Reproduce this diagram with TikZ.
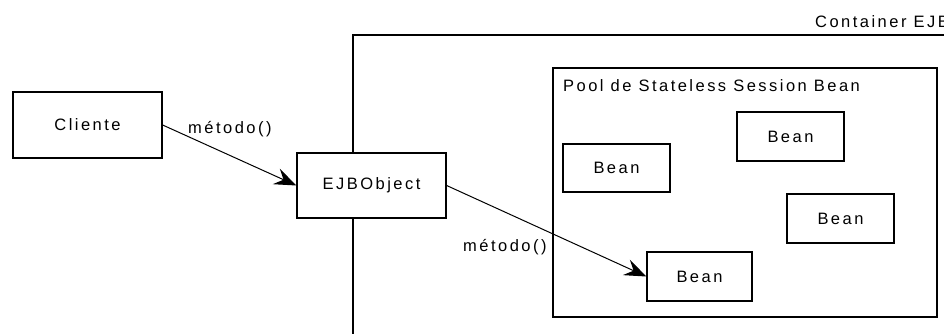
\documentclass[tikz,border=0pt]{standalone}
\usepackage{fontspec}
\setmainfont[LetterSpace=15]{Liberation Sans}
\usetikzlibrary{arrows.meta}
\tikzset{
  box/.style={draw, line width=1.3pt, fill=white, inner sep=0pt, font=\fontsize{16.5}{19}\selectfont},
  lbl/.style={inner sep=0pt, font=\fontsize{16.5}{19}\selectfont},
  call/.style={line width=1pt, -{Stealth[length=22pt,width=17pt,inset=8pt]}},
  frame/.style={line width=1.3pt}
}
\begin{document}
\begin{tikzpicture}[x=1pt,y=-1pt]
\useasboundingbox (0,0) rectangle (944,333);
\clip (0,0) rectangle (944,333);
% container
\coordinate (cbot) at (353,340);
\coordinate (ctl) at (353,35);
\coordinate (cright) at (950,35);
\draw[frame] (cbot) -- (ctl) -- (cright);
\node[lbl, anchor=base west] (clbl) at (815,27) {Container EJB};
% pool
\node[box, minimum width=384pt, minimum height=249pt] (pool) at (745,192.5) {};
\node[lbl, anchor=base west] (plbl) at (563,91) {Pool de Stateless Session Bean};
% beans
\node[box, minimum width=107pt, minimum height=49pt] (b1) at (790.5,136.5) {Bean};
\node[box, minimum width=107pt, minimum height=48pt] (b2) at (616.5,168) {Bean};
\node[box, minimum width=107pt, minimum height=49pt] (b3) at (840.5,218.5) {Bean};
\node[box, minimum width=105pt, minimum height=49pt] (b4) at (699.5,276.5) {Bean};
% client and EJBObject
\node[box, minimum width=149pt, minimum height=66pt] (cli) at (87.5,125) {Cliente};
\node[box, minimum width=149pt, minimum height=65pt] (ejb) at (371.5,185.5) {EJBObject};
% calls
\draw[call] (cli.east) -- (ejb.west);
\draw[call] (ejb.east) -- (b4.west);
\node[lbl, anchor=base west] (m1) at (188,133) {método()};
\node[lbl, anchor=base west] (m2) at (463,251) {método()};
\end{tikzpicture}
\end{document}
